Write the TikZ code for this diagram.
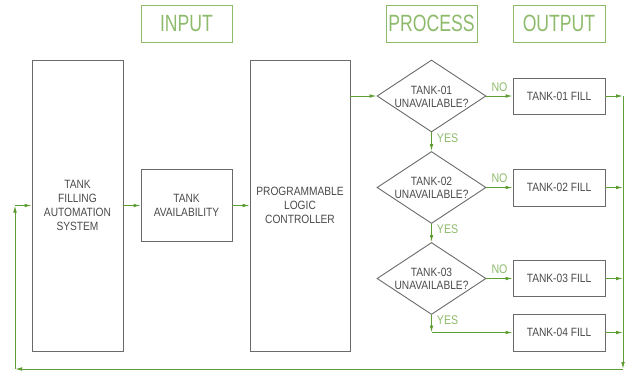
\documentclass[tikz,border=0pt]{standalone}
\usepackage{fontspec}
\setmainfont{Liberation Sans}[FakeStretch=0.85]
\newfontfamily\titlefont{Liberation Sans}[FakeStretch=0.75]
\usetikzlibrary{shapes.geometric,arrows.meta}
\definecolor{boxgray}{HTML}{6A6A6A}
\definecolor{txtgray}{HTML}{4A4A4A}
\definecolor{flowgreen}{HTML}{5E9E32}
\definecolor{tipgreen}{HTML}{3F8A14}
\definecolor{lblgreen}{HTML}{8DBA6B}
\tikzset{
  block/.style={draw=boxgray, line width=0.9pt, rectangle, inner sep=0pt,
    font=\fontsize{12}{14}\selectfont, text=txtgray, align=center},
  titlebox/.style={draw=lblgreen, line width=0.9pt, rectangle, inner sep=0pt,
    minimum width=91pt, minimum height=37pt,
    font=\titlefont\fontsize{23.5}{25}\selectfont, text=lblgreen},
  decision/.style={draw=boxgray, line width=0.9pt, diamond, inner sep=0pt,
    minimum width=109pt, minimum height=72pt},
  dtext/.style={font=\fontsize{12}{13}\selectfont, text=txtgray, align=center, inner sep=0pt},
  flow/.style={draw=flowgreen, line width=0.9pt,
    -{Latex[length=7pt,width=3.6pt,fill=tipgreen]}},
  lbl/.style={font=\fontsize{12.5}{14}\selectfont, text=lblgreen, inner sep=0pt}
}
\begin{document}
\begin{tikzpicture}[x=1pt,y=-1pt]
\useasboundingbox (0,0) rectangle (626,372);

% column headings
\node[titlebox] (tin)  at (186.5,23.5) {INPUT};
\node[titlebox] (tpr)  at (431.5,23.5) {PROCESS};
\node[titlebox, minimum width=92pt] (tout) at (559,23.5) {OUTPUT};

% input side
\node[block, minimum width=91pt, minimum height=291pt] (sys) at (77.5,205.5)
  {TANK\\FILLING\\AUTOMATION\\SYSTEM};
\node[block, minimum width=91pt, minimum height=72pt] (avail) at (186.5,205.5)
  {TANK\\AVAILABILITY};
\node[block, minimum width=100pt, minimum height=291pt] (plc) at (300,205.5)
  {PROGRAMMABLE\\LOGIC\\CONTROLLER};

% decisions
\node[decision] (d1) at (431.5,96) {};
\node[decision] (d2) at (431.5,187.5) {};
\node[decision] (d3) at (431.5,278.5) {};
\node[dtext] (d1t) at (431.5,96.5) {TANK-01\\UNAVAILABLE?};
\node[dtext] (d2t) at (431.5,188) {TANK-02\\UNAVAILABLE?};
\node[dtext] (d3t) at (431.5,279) {TANK-03\\UNAVAILABLE?};

% outputs
\node[block, minimum width=92pt, minimum height=36pt] (f1) at (559,96) {TANK-01 FILL};
\node[block, minimum width=92pt, minimum height=37pt] (f2) at (559,187.5) {TANK-02 FILL};
\node[block, minimum width=92pt, minimum height=36pt] (f3) at (559,278.5) {TANK-03 FILL};
\node[block, minimum width=92pt, minimum height=37pt] (f4) at (559,332.5) {TANK-04 FILL};

% routing points
\coordinate (y3)     at (431.5,332.5);
\coordinate (busTop) at (623,96);
\coordinate (busBot) at (623,369);
\coordinate (retBot) at (15,369);
\coordinate (retTop) at (15,205.5);

% input chain
\draw[flow] (sys.east) -- (avail.west);
\draw[flow] (avail.east) -- (plc.west);
\draw[flow] (plc.east |- d1.west) -- (d1.west);

% decision chain
\draw[flow] (d1.east) -- node[lbl, above=4pt] (no1) {NO} (f1.west);
\draw[flow] (d2.east) -- node[lbl, above=4pt] (no2) {NO} (f2.west);
\draw[flow] (d3.east) -- node[lbl, above=4pt] (no3) {NO} (f3.west);
\draw[flow] (d1.south) -- node[lbl, right=5pt, pos=0.3] (yes1) {YES} (d2.north);
\draw[flow] (d2.south) -- node[lbl, right=5pt, pos=0.3] (yes2) {YES} (d3.north);
\draw[flow] (d3.south) -- node[lbl, right=5pt, pos=0.3] (yes3) {YES} (y3);
\draw[flow] (y3) -- (f4.west);

% collector bus and return path
\draw[flow] (f1.east) -- (f1.east -| busTop);
\draw[flow] (f2.east) -- (f2.east -| busTop);
\draw[flow] (f3.east) -- (f3.east -| busTop);
\draw[flow] (f4.east) -- (f4.east -| busTop);
\draw[flow] (busTop) -- (busBot);
\draw[flow] (busBot) -- (retBot);
\draw[flow] (retBot) -- (retTop);
\draw[flow] (retTop) -- (sys.west);
\end{tikzpicture}
\end{document}
